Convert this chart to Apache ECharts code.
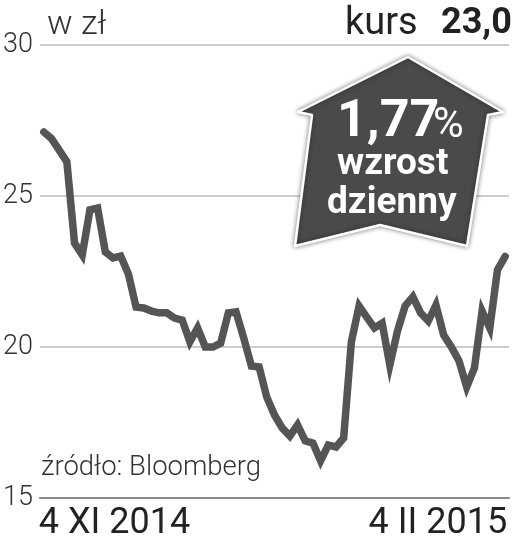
<!DOCTYPE html>
<html><head><meta charset="utf-8">
<style>html,body{margin:0;padding:0;background:#fff}#c{width:514px;height:543px}</style>
<script src="https://cdn.jsdelivr.net/npm/echarts@6/dist/echarts.min.js"></script>
</head><body><div id="c"></div>
<script>
const firstLabel = '4 XI 2014';
const lastLabel = '4 II 2015';
const prices = [27.12,26.90,26.52,26.13,23.44,23.05,24.54,24.60,23.15,22.95,23.01,22.42,21.32,21.29,21.19,21.13,21.13,20.96,20.89,20.17,20.63,20.0,20.0,20.13,21.13,21.16,20.30,19.37,19.34,18.34,17.75,17.32,17.05,17.42,16.89,16.82,16.23,16.75,16.69,16.99,20.17,21.36,20.99,20.63,20.79,19.40,20.53,21.36,21.66,21.13,20.86,21.39,20.40,20.0,19.54,18.68,19.30,21.19,20.63,22.55,23.0];
const categories = prices.map((_, i) => i === 0 ? firstLabel : i === prices.length - 1 ? lastLabel : 'd' + i);
const yTicks = {min: 15, max: 30, interval: 5};
const narrow = '"Liberation Sans Narrow","Roboto","Lato",sans-serif';
const light = 'Roboto,Lato,sans-serif';

const chart = echarts.init(document.getElementById('c'), null, {renderer: 'canvas'});
const arrow = [[408,57],[503,112],[488,115],[467,246],[380,225],[295,246],[312,115],[298,112]];
chart.setOption({
  animation: false,
  backgroundColor: '#fff',
  grid: {left: 38, right: 5, top: 45, bottom: 45},
  xAxis: {
    type: 'category', data: categories, boundaryGap: true,
    axisTick: {show: false},
    axisLine: {lineStyle: {color: '#8a8a8a', width: 2}},
    axisLabel: {
      interval: (i) => i === 0 || i === prices.length - 1,
      alignMinLabel: 'left', alignMaxLabel: 'right',
      hideOverlap: false, showMinLabel: true, showMaxLabel: true,
      padding: [0, -2, 0, -5],
      color: '#222', fontFamily: narrow, fontSize: 36, margin: 8
    }
  },
  yAxis: {
    type: 'value', min: yTicks.min, max: yTicks.max, interval: yTicks.interval,
    axisLine: {show: false}, axisTick: {show: false},
    splitLine: {lineStyle: {color: '#bdbdbd', width: 1.5}},
    axisLabel: {color: '#333', fontFamily: light, fontWeight: 300, fontSize: 27, margin: 7}
  },
  series: [{
    type: 'line', data: prices, showSymbol: false, smooth: false, z: 3,
    lineStyle: {color: '#555555', width: 7.5, cap: 'round', join: 'miter'}
  }],
  graphic: [
    {type: 'polygon', z: 10, shape: {points: arrow},
     style: {fill: '#4a4a4a', stroke: '#fff', lineWidth: 2.5, lineJoin: 'round', shadowBlur: 5, shadowColor: 'rgba(0,0,0,0.45)'}},
    {type: 'text', z: 11, left: 337, top: 97, style: {text: '1,77', fill: '#fff', font: 'bold 52px ' + narrow}},
    {type: 'text', z: 11, left: 433, top: 105, style: {text: '%', fill: '#fff', font: '42px ' + narrow}},
    {type: 'text', z: 11, left: 337, top: 146, style: {text: 'wzrost', fill: '#fff', font: 'bold 37px ' + narrow}},
    {type: 'text', z: 11, left: 327, top: 185, style: {text: 'dzienny', fill: '#fff', font: 'bold 37px ' + narrow}},
    {type: 'text', z: 11, left: 47, top: 8, style: {text: 'w zł', fill: '#333', font: '300 34px ' + light}},
    {type: 'text', z: 11, left: 345, top: 5, style: {text: 'kurs', fill: '#222', font: '38px ' + narrow}},
    {type: 'text', z: 11, left: 441, top: 6, style: {text: '23,0', fill: '#222', font: 'bold 36px ' + narrow}},
    {type: 'text', z: 11, left: 41, top: 454, style: {text: 'źródło: Bloomberg', fill: '#333', font: '300 27.5px ' + narrow}}
  ]
});
</script></body></html>
